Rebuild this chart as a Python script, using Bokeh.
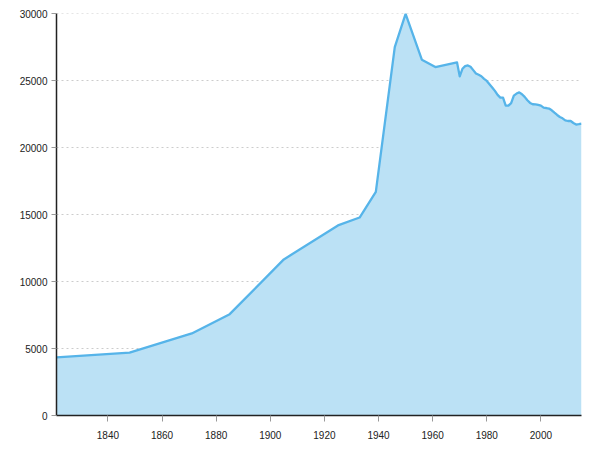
from bokeh.plotting import figure
from bokeh.models import Range1d, SingleIntervalTicker
from bokeh.embed import file_html
from bokeh.resources import INLINE

years = [1821, 1848, 1871, 1885, 1905, 1925, 1933, 1939, 1946, 1950, 1956, 1961,
         1969, 1970, 1971, 1972, 1973, 1974, 1975, 1976, 1977, 1978, 1979,
         1980, 1981, 1982, 1983, 1984, 1985, 1986, 1987, 1988, 1989,
         1990, 1991, 1992, 1993, 1994, 1995, 1996, 1997, 1998, 1999,
         2000, 2001, 2002, 2003, 2004, 2005, 2006, 2007, 2008, 2009,
         2010, 2011, 2012, 2013, 2014, 2015]
population = [4340, 4690, 6130, 7570, 11660, 14200, 14790, 16700, 27520, 30000, 26580, 26030,
              26380, 25340, 25900, 26100, 26150, 26050, 25800, 25550, 25450, 25340, 25150,
              24990, 24750, 24500, 24250, 23950, 23750, 23740, 23150, 23150, 23340,
              23900, 24050, 24140, 24000, 23800, 23550, 23350, 23250, 23240, 23200,
              23150, 23000, 22970, 22930, 22800, 22620, 22450, 22300, 22200, 22050,
              22000, 22000, 21850, 21730, 21760, 21800]

p = figure(width=592, height=442, output_backend="svg", toolbar_location=None,
           x_range=Range1d(1821, 2015), y_range=Range1d(0, 30030))
p.min_border_left = 56
p.min_border_right = 11
p.min_border_top = 13
p.min_border_bottom = 27
p.outline_line_color = None
p.background_fill_color = "white"
p.border_fill_color = "white"

p.varea(x=years, y1=[0] * len(years), y2=population, fill_color="#BBE1F5", fill_alpha=1.0)
p.line(x=years, y=population, line_color="#56B4E9", line_width=2.3, line_join="round")

p.xaxis.ticker = SingleIntervalTicker(interval=20)
p.yaxis.ticker = SingleIntervalTicker(interval=5000)
for ax in (p.xaxis, p.yaxis):
    ax.minor_tick_line_color = None
    ax.axis_line_color = "#222222"
    ax.axis_line_width = 1.5
    ax.major_tick_line_color = "#999999"
    ax.major_tick_in = 0
    ax.major_label_text_font = "Liberation Sans"
    ax.major_label_text_font_size = "10px"
    ax.major_label_text_color = "#222222"
p.xaxis.major_tick_out = 6
p.xaxis.major_label_standoff = 9
p.yaxis.major_tick_out = 5
p.yaxis.major_label_standoff = 4
p.yaxis.formatter.use_scientific = False

p.xgrid.grid_line_color = None
p.ygrid.grid_line_color = "#cccccc"
p.ygrid.grid_line_dash = "2 3"
p.ygrid.grid_line_width = 1

open("out.html", "w").write(file_html(p, INLINE))
